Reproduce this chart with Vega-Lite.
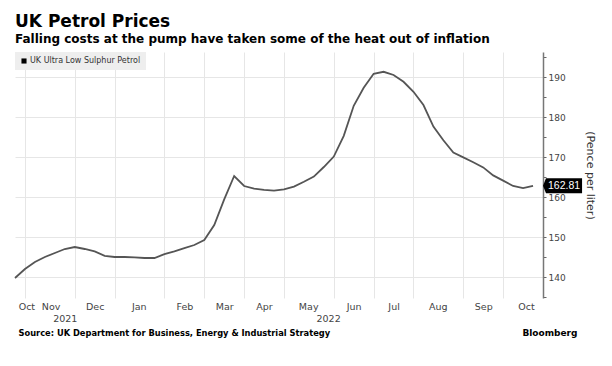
{
  "$schema": "https://vega.github.io/schema/vega-lite/v6.json",
  "width": 528,
  "height": 246,
  "autosize": "none",
  "padding": {"left": 15, "top": 52, "right": 69, "bottom": 68},
  "background": "white",
  "config": {"view": {"stroke": null}},
  "title": {
    "text": "UK Petrol Prices",
    "subtitle": "Falling costs at the pump have taken some of the heat out of inflation",
    "anchor": "start",
    "frame": "group",
    "font": "DejaVu Sans",
    "fontSize": 17,
    "fontWeight": "bold",
    "color": "#000000",
    "subtitleFont": "DejaVu Sans",
    "subtitleFontSize": 12,
    "subtitleFontWeight": "bold",
    "subtitleColor": "#000000",
    "subtitlePadding": 3,
    "offset": 6
  },
  "data": {
    "values": [
      {"date": "2021-10-18", "value": 139.75, "series": "UK Ultra Low Sulphur Petrol"},
      {"date": "2021-10-25", "value": 142.0, "series": "UK Ultra Low Sulphur Petrol"},
      {"date": "2021-11-01", "value": 143.75, "series": "UK Ultra Low Sulphur Petrol"},
      {"date": "2021-11-08", "value": 145.0, "series": "UK Ultra Low Sulphur Petrol"},
      {"date": "2021-11-15", "value": 146.0, "series": "UK Ultra Low Sulphur Petrol"},
      {"date": "2021-11-22", "value": 147.0, "series": "UK Ultra Low Sulphur Petrol"},
      {"date": "2021-11-29", "value": 147.5, "series": "UK Ultra Low Sulphur Petrol"},
      {"date": "2021-12-06", "value": 147.0, "series": "UK Ultra Low Sulphur Petrol"},
      {"date": "2021-12-13", "value": 146.4, "series": "UK Ultra Low Sulphur Petrol"},
      {"date": "2021-12-20", "value": 145.3, "series": "UK Ultra Low Sulphur Petrol"},
      {"date": "2021-12-27", "value": 145.0, "series": "UK Ultra Low Sulphur Petrol"},
      {"date": "2022-01-03", "value": 145.0, "series": "UK Ultra Low Sulphur Petrol"},
      {"date": "2022-01-10", "value": 144.9, "series": "UK Ultra Low Sulphur Petrol"},
      {"date": "2022-01-17", "value": 144.75, "series": "UK Ultra Low Sulphur Petrol"},
      {"date": "2022-01-24", "value": 144.75, "series": "UK Ultra Low Sulphur Petrol"},
      {"date": "2022-01-31", "value": 145.7, "series": "UK Ultra Low Sulphur Petrol"},
      {"date": "2022-02-07", "value": 146.4, "series": "UK Ultra Low Sulphur Petrol"},
      {"date": "2022-02-14", "value": 147.2, "series": "UK Ultra Low Sulphur Petrol"},
      {"date": "2022-02-21", "value": 148.0, "series": "UK Ultra Low Sulphur Petrol"},
      {"date": "2022-02-28", "value": 149.25, "series": "UK Ultra Low Sulphur Petrol"},
      {"date": "2022-03-07", "value": 153.0, "series": "UK Ultra Low Sulphur Petrol"},
      {"date": "2022-03-14", "value": 159.4, "series": "UK Ultra Low Sulphur Petrol"},
      {"date": "2022-03-21", "value": 165.25, "series": "UK Ultra Low Sulphur Petrol"},
      {"date": "2022-03-28", "value": 162.75, "series": "UK Ultra Low Sulphur Petrol"},
      {"date": "2022-04-04", "value": 162.1, "series": "UK Ultra Low Sulphur Petrol"},
      {"date": "2022-04-11", "value": 161.8, "series": "UK Ultra Low Sulphur Petrol"},
      {"date": "2022-04-18", "value": 161.6, "series": "UK Ultra Low Sulphur Petrol"},
      {"date": "2022-04-25", "value": 161.9, "series": "UK Ultra Low Sulphur Petrol"},
      {"date": "2022-05-02", "value": 162.6, "series": "UK Ultra Low Sulphur Petrol"},
      {"date": "2022-05-09", "value": 163.8, "series": "UK Ultra Low Sulphur Petrol"},
      {"date": "2022-05-16", "value": 165.1, "series": "UK Ultra Low Sulphur Petrol"},
      {"date": "2022-05-23", "value": 167.5, "series": "UK Ultra Low Sulphur Petrol"},
      {"date": "2022-05-30", "value": 170.1, "series": "UK Ultra Low Sulphur Petrol"},
      {"date": "2022-06-06", "value": 175.3, "series": "UK Ultra Low Sulphur Petrol"},
      {"date": "2022-06-13", "value": 182.8, "series": "UK Ultra Low Sulphur Petrol"},
      {"date": "2022-06-20", "value": 187.3, "series": "UK Ultra Low Sulphur Petrol"},
      {"date": "2022-06-27", "value": 190.8, "series": "UK Ultra Low Sulphur Petrol"},
      {"date": "2022-07-04", "value": 191.3, "series": "UK Ultra Low Sulphur Petrol"},
      {"date": "2022-07-11", "value": 190.5, "series": "UK Ultra Low Sulphur Petrol"},
      {"date": "2022-07-18", "value": 188.8, "series": "UK Ultra Low Sulphur Petrol"},
      {"date": "2022-07-25", "value": 186.3, "series": "UK Ultra Low Sulphur Petrol"},
      {"date": "2022-08-01", "value": 183.0, "series": "UK Ultra Low Sulphur Petrol"},
      {"date": "2022-08-08", "value": 177.6, "series": "UK Ultra Low Sulphur Petrol"},
      {"date": "2022-08-15", "value": 174.2, "series": "UK Ultra Low Sulphur Petrol"},
      {"date": "2022-08-22", "value": 171.1, "series": "UK Ultra Low Sulphur Petrol"},
      {"date": "2022-08-29", "value": 169.9, "series": "UK Ultra Low Sulphur Petrol"},
      {"date": "2022-09-05", "value": 168.7, "series": "UK Ultra Low Sulphur Petrol"},
      {"date": "2022-09-12", "value": 167.4, "series": "UK Ultra Low Sulphur Petrol"},
      {"date": "2022-09-19", "value": 165.4, "series": "UK Ultra Low Sulphur Petrol"},
      {"date": "2022-09-26", "value": 164.1, "series": "UK Ultra Low Sulphur Petrol"},
      {"date": "2022-10-03", "value": 162.75, "series": "UK Ultra Low Sulphur Petrol"},
      {"date": "2022-10-10", "value": 162.2, "series": "UK Ultra Low Sulphur Petrol"},
      {"date": "2022-10-17", "value": 162.81, "series": "UK Ultra Low Sulphur Petrol"}
    ]
  },
  "resolve": {"axis": {"x": "independent", "y": "independent"}},
  "layer": [
    {
      "mark": {"type": "line", "color": "#555555", "strokeWidth": 1.8},
      "encoding": {
        "x": {
          "field": "date",
          "type": "temporal",
          "scale": {
            "type": "utc",
            "domain": [
              {"year": 2021, "month": 10, "date": 18, "utc": true},
              {"year": 2022, "month": 10, "date": 24, "utc": true}
            ]
          },
          "axis": {
            "orient": "bottom",
            "values": [
              {"year": 2021, "month": 10, "date": 25, "utc": true},
              {"year": 2021, "month": 11, "date": 29, "utc": true},
              {"year": 2021, "month": 12, "date": 27, "utc": true},
              {"year": 2022, "month": 1, "date": 31, "utc": true},
              {"year": 2022, "month": 2, "date": 28, "utc": true},
              {"year": 2022, "month": 3, "date": 28, "utc": true},
              {"year": 2022, "month": 4, "date": 25, "utc": true},
              {"year": 2022, "month": 5, "date": 30, "utc": true},
              {"year": 2022, "month": 6, "date": 27, "utc": true},
              {"year": 2022, "month": 7, "date": 25, "utc": true},
              {"year": 2022, "month": 8, "date": 29, "utc": true},
              {"year": 2022, "month": 9, "date": 26, "utc": true}
            ],
            "grid": true,
            "gridColor": "#e6e6e6",
            "gridWidth": 1,
            "labels": false,
            "ticks": false,
            "domain": false,
            "title": "Bloomberg",
            "titleFont": "DejaVu Sans",
            "titleFontSize": 9,
            "titleFontWeight": "bold",
            "titleColor": "#000000",
            "titleAnchor": "end",
            "titleAlign": "right",
            "titleBaseline": "alphabetic",
            "titleX": 562,
            "titleY": 37
          }
        },
        "y": {
          "field": "value",
          "type": "quantitative",
          "scale": {"domain": [134.75, 196.25], "nice": false, "zero": false},
          "axis": {
            "orient": "right",
            "values": [135, 140, 145, 150, 155, 160, 165, 170, 175, 180, 185, 190, 195],
            "labelExpr": "datum.value % 10 === 0 ? datum.label : ''",
            "grid": true,
            "gridColor": "#e6e6e6",
            "gridOpacity": {"condition": {"test": "datum.value % 10 === 0", "value": 1}, "value": 0},
            "domain": true,
            "domainColor": "#777777",
            "domainWidth": 1.5,
            "ticks": true,
            "tickColor": "#666666",
            "tickSize": 3,
            "labelFont": "DejaVu Sans",
            "labelFontSize": 9,
            "labelColor": "#444444",
            "labelPadding": 2,
            "title": "(Pence per liter)",
            "titleFont": "DejaVu Sans",
            "titleFontSize": 11,
            "titleFontWeight": "normal",
            "titleColor": "#333333",
            "titlePadding": 19
          }
        }
      }
    },
    {
      "transform": [
        {"window": [{"op": "row_number", "as": "rn"}], "sort": [{"field": "date", "order": "descending"}]},
        {"filter": "datum.rn === 1"}
      ],
      "mark": {
        "type": "point",
        "shape": "M-1,0L-0.85,-0.385L1,-0.385L1,0.385L-0.85,0.385Z",
        "size": 1521,
        "filled": true,
        "opacity": 1,
        "strokeWidth": 0,
        "xOffset": 29.5
      },
      "encoding": {
        "x": {
          "field": "date",
          "type": "temporal",
          "axis": {
            "orient": "bottom",
            "values": [
              {"year": 2021, "month": 10, "date": 26, "utc": true},
              {"year": 2021, "month": 11, "date": 12, "utc": true},
              {"year": 2021, "month": 12, "date": 13, "utc": true},
              {"year": 2022, "month": 1, "date": 13, "utc": true},
              {"year": 2022, "month": 2, "date": 14, "utc": true},
              {"year": 2022, "month": 3, "date": 14, "utc": true},
              {"year": 2022, "month": 4, "date": 11, "utc": true},
              {"year": 2022, "month": 5, "date": 12, "utc": true},
              {"year": 2022, "month": 6, "date": 13, "utc": true},
              {"year": 2022, "month": 7, "date": 11, "utc": true},
              {"year": 2022, "month": 8, "date": 11, "utc": true},
              {"year": 2022, "month": 9, "date": 12, "utc": true},
              {"year": 2022, "month": 10, "date": 12, "utc": true}
            ],
            "labelExpr": "utcFormat(datum.value, '%b')",
            "grid": false,
            "ticks": false,
            "tickSize": 0,
            "domain": false,
            "labelFont": "DejaVu Sans",
            "labelFontSize": 9.5,
            "labelColor": "#444444",
            "labelPadding": 3,
            "labelBaseline": "top",
            "labelOverlap": false,
            "labelFlush": false,
            "title": null
          }
        },
        "y": {"field": "value", "type": "quantitative", "axis": null},
        "color": {
          "field": "series",
          "type": "nominal",
          "scale": {"range": ["#000000"]},
          "legend": {
            "title": null,
            "orient": "top-left",
            "offset": 0,
            "padding": 5,
            "fillColor": "#eeeeee",
            "symbolType": "square",
            "symbolSize": 26,
            "symbolStrokeWidth": 0,
            "labelFont": "DejaVu Sans",
            "labelFontSize": 8,
            "labelColor": "#333333",
            "labelOffset": 2
          }
        }
      }
    },
    {
      "transform": [
        {"window": [{"op": "row_number", "as": "rn"}], "sort": [{"field": "date", "order": "descending"}]},
        {"filter": "datum.rn === 1"}
      ],
      "mark": {
        "type": "text",
        "color": "#ffffff",
        "font": "Liberation Sans",
        "fontSize": 10.5,
        "align": "center",
        "baseline": "middle",
        "dx": 31
      },
      "encoding": {
        "x": {
          "field": "date",
          "type": "temporal",
          "axis": {
            "orient": "bottom",
            "values": [
              {"year": 2021, "month": 11, "date": 22, "utc": true},
              {"year": 2022, "month": 5, "date": 26, "utc": true}
            ],
            "labelExpr": "utcFormat(datum.value, '%Y')",
            "grid": false,
            "ticks": false,
            "tickSize": 0,
            "domain": false,
            "labelFont": "DejaVu Sans",
            "labelFontSize": 9.5,
            "labelColor": "#444444",
            "labelPadding": 15,
            "labelBaseline": "top",
            "labelOverlap": false,
            "labelFlush": false,
            "title": "Source: UK Department for Business, Energy & Industrial Strategy",
            "titleFont": "DejaVu Sans",
            "titleFontSize": 8.3,
            "titleFontWeight": "bold",
            "titleColor": "#000000",
            "titleAnchor": "start",
            "titleAlign": "left",
            "titleBaseline": "alphabetic",
            "titleX": 3,
            "titleY": 37
          }
        },
        "y": {"field": "value", "type": "quantitative", "axis": null},
        "text": {"field": "value", "type": "quantitative", "format": ".2f"}
      }
    }
  ]
}
